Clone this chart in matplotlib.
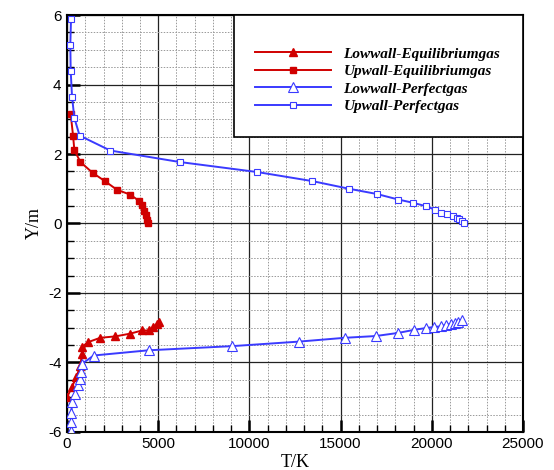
import numpy as np
import matplotlib.pyplot as plt
from matplotlib.patches import Rectangle
from matplotlib.ticker import MultipleLocator

plt.rcParams['axes.unicode_minus'] = False

# Upwall - equilibrium gas (filled squares)
up_eq_T = [200, 330, 400, 730, 1400, 2100, 2740, 3470, 3920, 4100, 4230, 4340, 4410, 4440]
up_eq_Y = [3.15, 2.53, 2.12, 1.77, 1.46, 1.21, 0.97, 0.83, 0.66, 0.52, 0.37, 0.23, 0.09, 0.0]

# Lowwall - equilibrium gas (filled triangles)
low_eq_T = [0, 270, 510, 730, 820, 820, 1130, 1820, 2650, 3470, 4110, 4470, 4740, 4930, 5050]
low_eq_Y = [-5.0, -4.71, -4.42, -4.09, -3.75, -3.56, -3.42, -3.29, -3.25, -3.17, -3.08, -3.08, -2.98, -2.89, -2.85]

# Upwall - perfect gas (open squares)
up_pg_T = [219, 180, 200, 274, 400, 690, 2370, 6170, 10440, 13450, 15460, 16980, 18160,
           18980, 19660, 20170, 20530, 20840, 21140, 21360, 21500, 21630, 21760]
up_pg_Y = [5.9, 5.15, 4.4, 3.65, 3.04, 2.53, 2.1, 1.77, 1.48, 1.22, 1.0, 0.85, 0.69,
           0.595, 0.5, 0.4, 0.31, 0.26, 0.21, 0.16, 0.115, 0.07, 0.01]

# Lowwall - perfect gas (open triangles)
low_pg_T = [235, 235, 240, 270, 455, 600, 730, 780, 820, 1460, 4470, 9070, 12720, 15240,
            16920, 18160, 19040, 19680, 20130, 20480, 20770, 21030, 21260, 21440, 21630]
low_pg_Y = [-5.96, -5.72, -5.45, -5.14, -4.9, -4.66, -4.47, -4.28, -4.04, -3.8, -3.65, -3.53,
            -3.4, -3.29, -3.24, -3.15, -3.06, -3.01, -2.98, -2.96, -2.92, -2.89, -2.86, -2.84, -2.79]

red = '#d00000'
blue = '#3a3aff'

fig = plt.figure(figsize=(5.54, 4.70), dpi=100)
ax = fig.add_axes([0.121, 0.081, 0.823, 0.887])

ax.plot(low_eq_T, low_eq_Y, color=red, lw=1.4, marker='^', ms=5.5, mfc=red, mec=red,
        label='Lowwall-Equilibriumgas', zorder=4)
ax.plot(up_eq_T, up_eq_Y, color=red, lw=1.4, marker='s', ms=4.5, mfc=red, mec=red,
        label='Upwall-Equilibriumgas', zorder=4)
ax.plot(low_pg_T, low_pg_Y, color=blue, lw=1.4, marker='^', ms=6.5, mfc='white', mec=blue,
        mew=0.8, label='Lowwall-Perfectgas', zorder=5)
ax.plot(up_pg_T, up_pg_Y, color=blue, lw=1.4, marker='s', ms=5, mfc='white', mec=blue,
        mew=0.8, label='Upwall-Perfectgas', zorder=5)

ax.set_xlim(0, 25000)
ax.set_ylim(-6, 6)
ax.xaxis.set_major_locator(MultipleLocator(5000))
ax.xaxis.set_minor_locator(MultipleLocator(1000))
ax.yaxis.set_major_locator(MultipleLocator(2))
ax.yaxis.set_minor_locator(MultipleLocator(0.5))

ax.grid(which='major', color='#222222', lw=0.9, ls='-', zorder=0)
ax.grid(which='minor', color='#999999', lw=0.7, ls=(0, (1.5, 1.5)), zorder=0)
ax.set_axisbelow(True)

ax.tick_params(which='major', direction='in', length=9, width=1.8, labelsize=11,
               top=False, right=False, pad=4)
ax.tick_params(which='minor', direction='in', length=5, width=1.0, top=False, right=False)
for lab in ax.get_xticklabels() + ax.get_yticklabels():
    lab.set_family('Liberation Sans')
for s in ax.spines.values():
    s.set_linewidth(1.5)

ax.set_xlabel('T/K', family='Liberation Serif', fontsize=13, labelpad=2)
ax.set_ylabel('Y/m', family='Liberation Serif', fontsize=13, labelpad=4)

# legend box in the upper right corner
ax.add_patch(Rectangle((0.366, 0.707), 0.634, 0.293, transform=ax.transAxes,
                       facecolor='white', edgecolor='black', lw=1.2, zorder=6))
leg = ax.legend(loc='upper left', bbox_to_anchor=(0.395, 0.942), frameon=False,
                handlelength=5.0, labelspacing=0.25, handletextpad=0.8, borderpad=0,
                prop={'family': 'Liberation Serif', 'weight': 'bold', 'style': 'italic',
                      'size': 11})
leg.set_zorder(7)

fig.savefig('out.png', dpi=100)
